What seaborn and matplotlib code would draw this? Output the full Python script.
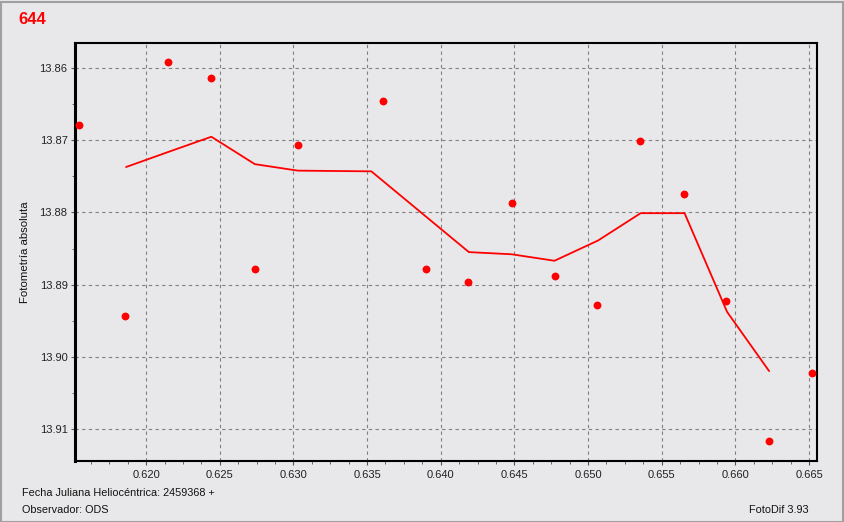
import matplotlib
matplotlib.use("Agg")
import matplotlib.pyplot as plt
import matplotlib.patches as mpatches
from matplotlib.ticker import MultipleLocator, FormatStrFormatter
import seaborn as sns
import pandas as pd

# observations
obs_x = [0.61546, 0.61859, 0.62152, 0.62443, 0.62738, 0.63029, 0.63608, 0.63901,
         0.64187, 0.64481, 0.64774, 0.65061, 0.65355, 0.65651, 0.65939, 0.66229, 0.66520]
obs_y = [13.8679, 13.8944, 13.8591, 13.8614, 13.8878, 13.8707, 13.8645, 13.8878,
         13.8896, 13.8787, 13.8888, 13.8928, 13.8701, 13.8775, 13.8923, 13.9117, 13.9023]

# smoothed curve
avg_x = [0.61864, 0.62152, 0.62443, 0.62738, 0.63029, 0.63529, 0.64191, 0.64481,
         0.64772, 0.65067, 0.65357, 0.65655, 0.65944, 0.66229]
avg_y = [13.8737, 13.8716, 13.8695, 13.8733, 13.8742, 13.8743, 13.8855, 13.8858,
         13.8867, 13.8839, 13.8801, 13.8801, 13.8938, 13.9020]

bg = "#e8e8ea"
sns.set_theme(style="white")
plt.rcParams["font.family"] = ["Liberation Sans", "DejaVu Sans"]

fig = plt.figure(figsize=(8.44, 5.22), dpi=100, facecolor=bg)
ax = fig.add_axes([74.5 / 844, 1 - 460.5 / 522, (817 - 74.5) / 844, (460.5 - 43) / 522])
ax.set_facecolor(bg)

obs = pd.DataFrame({"x": obs_x, "y": obs_y})
avg = pd.DataFrame({"x": avg_x, "y": avg_y})
sns.lineplot(data=avg, x="x", y="y", sort=False, color="#ff0000", linewidth=1.3, ax=ax)
sns.scatterplot(data=obs, x="x", y="y", color="#ff0000", s=32, linewidth=0, ax=ax, zorder=3)

ax.set_xlim(0.61514, 0.66554)
ax.set_ylim(13.9144, 13.8565)
ax.xaxis.set_major_locator(MultipleLocator(0.005))
ax.xaxis.set_minor_locator(MultipleLocator(0.00125))
ax.yaxis.set_major_locator(MultipleLocator(0.01))
ax.yaxis.set_minor_locator(MultipleLocator(0.005))
ax.xaxis.set_major_formatter(FormatStrFormatter("%.3f"))
ax.yaxis.set_major_formatter(FormatStrFormatter("%.2f"))
ax.grid(True, which="major", color="#808080", linestyle=(0, (3, 3)), linewidth=0.8)
ax.tick_params(axis="both", which="major", direction="out", length=3, width=0.8,
               color="#555555", labelsize=8, labelcolor="#222222", pad=2,
               bottom=True, left=True)
ax.tick_params(axis="x", which="major", pad=4)
ax.tick_params(axis="both", which="minor", direction="out", length=2, width=0.6,
               color="#555555", bottom=True, left=True)
ax.set_xlabel("")
ax.set_ylabel("Fotometría absoluta", fontsize=8.2, color="#111111", labelpad=7)
for side in ["top", "right", "bottom"]:
    ax.spines[side].set_color("black")
    ax.spines[side].set_linewidth(1.5)
ax.spines["left"].set_color("black")
ax.spines["left"].set_linewidth(2.2)

fig.text(18 / 844, 1 - 19 / 522, "644", color="#ff0000", fontsize=12,
         fontweight="bold", va="center", ha="left")
fig.text(22 / 844, 1 - 493 / 522, "Fecha Juliana Heliocéntrica: 2459368 +",
         fontsize=7.8, va="center", ha="left", color="#111111")
fig.text(22 / 844, 1 - 510 / 522, "Observador: ODS", fontsize=7.8,
         va="center", ha="left", color="#111111")
fig.text(809 / 844, 1 - 510 / 522, "FotoDif 3.93", fontsize=7.8,
         va="center", ha="right", color="#111111")

# window frame
fig.patches.append(mpatches.Rectangle((0.5 / 844, 0.5 / 522), 842 / 844, 520 / 522,
                                      transform=fig.transFigure, fill=False,
                                      edgecolor="#a0a0a0", linewidth=1.5))

fig.savefig("out.png", dpi=100, facecolor=bg)
